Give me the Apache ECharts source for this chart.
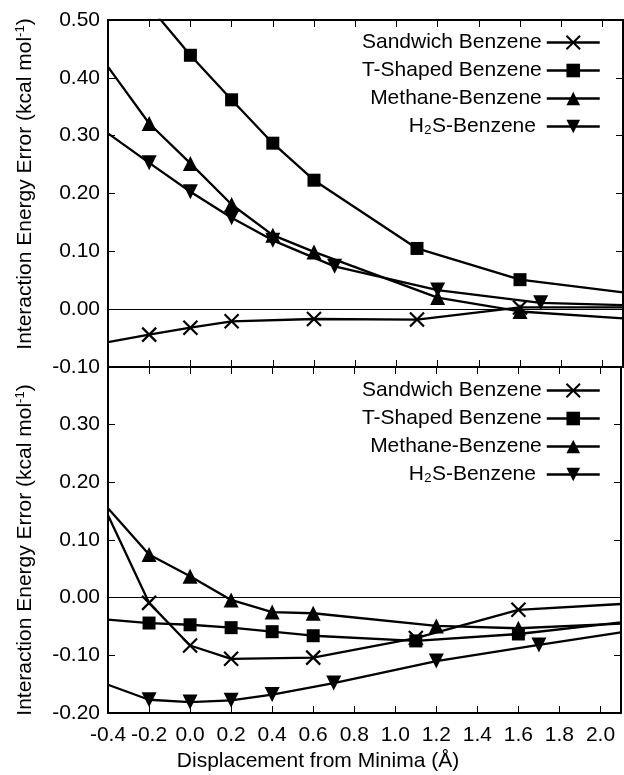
<!DOCTYPE html>
<html>
<head>
<meta charset="utf-8">
<script src="https://cdn.jsdelivr.net/npm/echarts@6/dist/echarts.min.js"></script>
<style>
  html, body { margin: 0; padding: 0; background: #fff; }
  #chart { width: 624px; height: 775px; }
</style>
</head>
<body>
<div id="chart"></div>
<script>
// x range shown on both panels; points sitting on these edges get no marker
const X_MIN = -0.4
const X_MAX = 2.1

const seriesNames = ["Sandwich Benzene", "T-Shaped Benzene", "Methane-Benzene", "H2S-Benzene"]

// top panel
const sandwichTop = [[-0.4, -0.057], [-0.2, -0.044], [0.0, -0.032], [0.2, -0.021], [0.6, -0.017], [1.1, -0.018], [1.6, 0.003], [2.1, 0.003]]
const tshapedTop = [[-0.2, 0.524], [0.0, 0.439], [0.2, 0.362], [0.4, 0.287], [0.6, 0.223], [1.1, 0.105], [1.6, 0.051], [2.1, 0.029]]
const methaneTop = [[-0.4, 0.419], [-0.2, 0.321], [0.0, 0.252], [0.2, 0.181], [0.4, 0.128], [0.6, 0.099], [1.2, 0.020], [1.6, -0.004], [2.1, -0.016]]
const h2sTop = [[-0.4, 0.304], [-0.2, 0.253], [0.0, 0.203], [0.2, 0.158], [0.4, 0.119], [0.7, 0.074], [1.2, 0.033], [1.7, 0.011], [2.1, 0.007]]

// bottom panel
const sandwichBot = [[-0.4, 0.143], [-0.2, -0.009], [0.0, -0.083], [0.2, -0.106], [0.6, -0.104], [1.1, -0.070], [1.6, -0.021], [2.1, -0.011]]
const tshapedBot = [[-0.4, -0.038], [-0.2, -0.044], [0.0, -0.047], [0.2, -0.052], [0.4, -0.059], [0.6, -0.066], [1.1, -0.075], [1.6, -0.063], [2.1, -0.043]]
const methaneBot = [[-0.4, 0.155], [-0.2, 0.075], [0.0, 0.037], [0.2, -0.004], [0.4, -0.025], [0.6, -0.027], [1.2, -0.049], [1.6, -0.053], [2.1, -0.045]]
const h2sBot = [[-0.4, -0.151], [-0.2, -0.177], [0.0, -0.181], [0.2, -0.178], [0.4, -0.168], [0.7, -0.148], [1.2, -0.110], [1.7, -0.082], [2.1, -0.060]]

const topRange = [-0.1, 0.5]
const botRange = [-0.2, 0.4]

const FONT = "Liberation Sans"
const CROSS = "path://M0,0L10,10M10,0L0,10"

const markers = [
  {symbol: CROSS, symbolSize: 14, symbolRotate: 0, itemStyle: {color: "#000", borderColor: "#000", borderWidth: 2.2}},
  {symbol: "rect", symbolSize: 13, symbolRotate: 0, itemStyle: {color: "#000", borderWidth: 0}},
  {symbol: "triangle", symbolSize: 15, symbolRotate: 0, itemStyle: {color: "#000", borderWidth: 0}},
  {symbol: "triangle", symbolSize: 15, symbolRotate: 180, itemStyle: {color: "#000", borderWidth: 0}},
]

const toItems = pts => pts.map(p =>
  (p[0] <= X_MIN || p[0] >= X_MAX) ? {value: p, symbol: "none"} : {value: p}
)

const zeroLine = {
  silent: true,
  symbol: "none",
  label: {show: false},
  lineStyle: {color: "#000", width: 1.2, type: "solid"},
  data: [{yAxis: 0}],
}

const makeSeries = (grid, lists) => lists.map((pts, i) => ({
  name: seriesNames[i],
  type: "line",
  xAxisIndex: grid * 2,
  yAxisIndex: grid * 2,
  data: toItems(pts),
  clip: true,
  lineStyle: {color: "#000", width: 2.3},
  ...markers[i],
  markLine: i === 0 ? zeroLine : undefined,
}))

const xAxisBase = (grid, pos, labels) => ({
  type: "value",
  gridIndex: grid,
  position: pos,
  min: X_MIN,
  max: X_MAX,
  interval: 0.2,
  axisLine: {show: true, onZero: false, lineStyle: {color: "#000", width: 2}},
  axisTick: {show: true, inside: true, length: 7, lineStyle: {color: "#000", width: 1}},
  splitLine: {show: false},
  axisLabel: {
    show: labels,
    margin: 12,
    color: "#000",
    fontFamily: FONT,
    fontSize: 21,
    formatter: v => (v > 2.05 ? "" : (Math.abs(v) < 1e-9 ? 0 : v).toFixed(1)),
  },
})

const yTitle = "{n|Interaction Energy Error (kcal mol}{s|-1}{n|)}"
const yTitleStyle = pad => ({
  color: "#000",
  fontFamily: FONT,
  padding: pad,
  rich: {
    n: {fontFamily: FONT, fontSize: 21, lineHeight: 22, color: "#000"},
    s: {fontFamily: FONT, fontSize: 13, lineHeight: 13, verticalAlign: "top", color: "#000"},
  },
})

const yAxisBase = (grid, pos, range, labels, hideTop, titlePad) => ({
  type: "value",
  gridIndex: grid,
  position: pos,
  min: range[0],
  max: range[1],
  interval: 0.1,
  name: titlePad ? yTitle : "",
  nameLocation: "middle",
  nameRotate: 90,
  nameGap: 72,
  nameTextStyle: titlePad ? yTitleStyle(titlePad) : {},
  axisLine: {show: true, onZero: false, lineStyle: {color: "#000", width: 2}},
  axisTick: {show: true, inside: true, length: 7, lineStyle: {color: "#000", width: 1}},
  splitLine: {show: false},
  axisLabel: {
    show: labels,
    margin: 8,
    color: "#000",
    fontFamily: FONT,
    fontSize: 21,
    formatter: v => {
      if (hideTop && v > range[1] - 0.05) return ""
      return (Math.abs(v) < 1e-9 ? 0 : v).toFixed(2)
    },
  },
})

const legendFor = top => ({
  orient: "vertical",
  align: "right",
  right: 18,
  top: top,
  itemWidth: 53,
  itemHeight: 17,
  itemGap: 7,
  selectedMode: false,
  data: seriesNames,
  lineStyle: {width: 2.5, color: "#000"},
  textStyle: {color: "#000", fontFamily: FONT, fontSize: 21, lineHeight: 21},
  formatter: name => (name === "H2S-Benzene" ? "H\u2082S-Benzene " : name),
})

const chart = echarts.init(document.getElementById("chart"), null, {renderer: "canvas"})

chart.setOption({
  animation: false,
  backgroundColor: "#fff",
  grid: [
    {left: 108, top: 20, width: 515, height: 347},
    {left: 108, top: 367, width: 515, height: 346},
  ],
  xAxis: [
    xAxisBase(0, "bottom", false),
    xAxisBase(0, "top", false),
    {
      ...xAxisBase(1, "bottom", true),
      name: "Displacement from Minima (\u00c5)",
      nameLocation: "middle",
      nameGap: 38,
      nameTextStyle: {color: "#000", fontFamily: FONT, fontSize: 21, padding: [0, 93, 0, 0]},
    },
    xAxisBase(1, "top", false),
  ],
  yAxis: [
    yAxisBase(0, "left", topRange, true, false, [0, 0, 0, 19]),
    yAxisBase(0, "right", topRange, false, false, null),
    yAxisBase(1, "left", botRange, true, true, [0, 20, 0, 0]),
    yAxisBase(1, "right", botRange, false, false, null),
  ],
  legend: [legendFor(27), legendFor(375)],
  series: [
    ...makeSeries(0, [sandwichTop, tshapedTop, methaneTop, h2sTop]),
    ...makeSeries(1, [sandwichBot, tshapedBot, methaneBot, h2sBot]),
  ],
})
</script>
</body>
</html>
